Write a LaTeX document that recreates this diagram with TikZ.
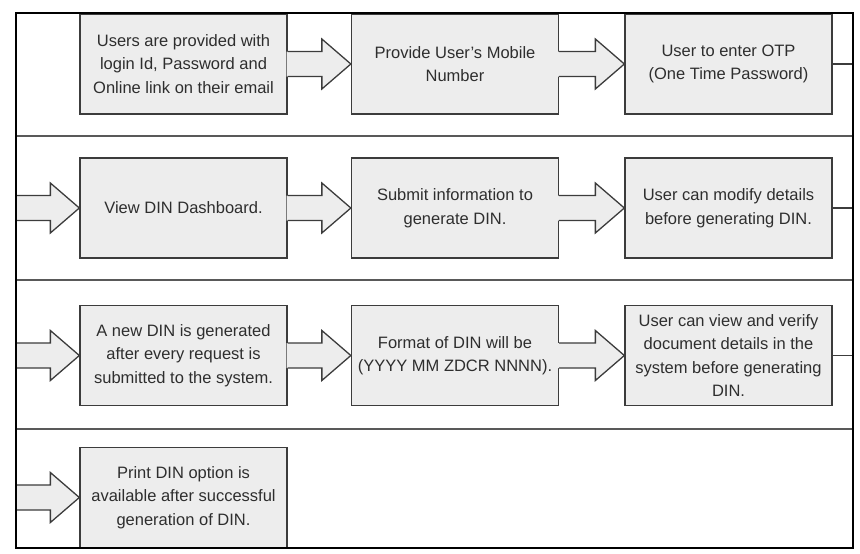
\documentclass[tikz,border=0pt]{standalone}
\usepackage{fontspec}
\setmainfont{Liberation Sans}
\usetikzlibrary{calc}

\definecolor{grigio}{HTML}{EDEDED}
\definecolor{bordo}{HTML}{3C3C3C}
\definecolor{testo}{HTML}{2E2E2E}

\tikzset{
    passo/.style={draw=bordo, fill=grigio, line width=1.3pt, minimum width=207pt,
        minimum height=100pt, inner sep=0pt, align=center, text=testo,
        font=\fontsize{16.5}{23.5}\selectfont},
    riga/.style={draw=black!65, line width=1.4pt},
    filo/.style={draw=bordo, line width=1.3pt}
}

\begin{document}
\begin{tikzpicture}[x=1pt, y=-1pt]

    \useasboundingbox (0,0) rectangle (860,554);

    % Definizione della freccia a blocco: coda su #1, punta su #2
    \def\freccia#1#2{%
        \fill[grigio] ($(#1)+(-1,-12.5)$) -- ($(#2)+(-29,-12.5)$) -- ($(#2)+(-29,-25)$) -- (#2)
                      -- ($(#2)+(-29,25)$) -- ($(#2)+(-29,12.5)$) -- ($(#1)+(-1,12.5)$) -- cycle;%
        \draw[filo] ($(#1)+(0,-12.5)$) -- ($(#2)+(-29,-12.5)$) -- ($(#2)+(-29,-25)$) -- (#2)
                    -- ($(#2)+(-29,25)$) -- ($(#2)+(-29,12.5)$) -- ($(#1)+(0,12.5)$);%
    }

    % -- Riga 1 --
    \node[passo] (login) at (183.5, 64) {Users are provided with\\login Id, Password and\\Online link on their email};
    \node[passo] (mobile) at (455, 64) {Provide User’s Mobile\\Number};
    \node[passo] (otp) at (728.5, 64) {User to enter OTP\\(One Time Password)};

    % -- Riga 2 --
    \node[passo] (dashboard) at (183.5, 208) {View DIN Dashboard.};
    \node[passo] (submit) at (455, 208) {Submit information to\\generate DIN.};
    \node[passo] (modify) at (728.5, 208) {User can modify details\\before generating DIN.};

    % -- Riga 3 --
    \node[passo] (newdin) at (183.5, 355.5) {A new DIN is generated\\after every request is\\submitted to the system.};
    \node[passo] (format) at (455, 355.5) {Format of DIN will be\\(YYYY MM ZDCR NNNN).};
    \node[passo] (verify) at (728.5, 355.5) {User can view and verify\\document details in the\\system before generating\\DIN.};

    % -- Riga 4 --
    \node[passo] (print) at (183.5, 497.5) {Print DIN option is\\available after successful\\generation of DIN.};

    % Estremi sul bordo della cornice
    \coordinate (out1) at (853, 64);
    \coordinate (out2) at (853, 208);
    \coordinate (out3) at (853, 355.5);
    \coordinate (in2) at (16, 208);
    \coordinate (in3) at (16, 355.5);
    \coordinate (in4) at (16, 497.5);

    % Frecce fra i passi
    \freccia{login.east}{mobile.west}
    \freccia{mobile.east}{otp.west}
    \freccia{in2}{dashboard.west}
    \freccia{dashboard.east}{submit.west}
    \freccia{submit.east}{modify.west}
    \freccia{in3}{newdin.west}
    \freccia{newdin.east}{format.west}
    \freccia{format.east}{verify.west}
    \freccia{in4}{print.west}

    % Uscite verso destra
    \draw[filo] (otp.east) -- (out1);
    \draw[filo] (modify.east) -- (out2);
    \draw[filo] (verify.east) -- (out3);

    % Separatori fra le righe e cornice
    \draw[riga] (16, 136) -- (853, 136);
    \draw[riga] (16, 280) -- (853, 280);
    \draw[riga] (16, 429) -- (853, 429);
    \draw[black, line width=2pt] (16, 13) rectangle (853, 548);

\end{tikzpicture}
\end{document}
